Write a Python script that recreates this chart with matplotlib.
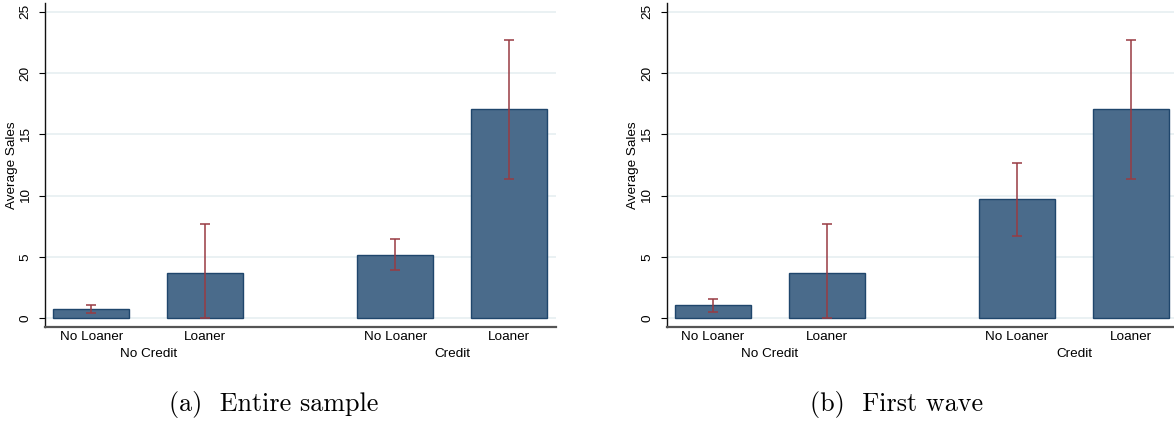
import matplotlib
matplotlib.use('Agg')
import matplotlib.pyplot as plt
import numpy as np

# 分类标签
loaner_labels = ['No Loaner', 'Loaner', 'No Loaner', 'Loaner']
credit_labels = ['No Credit', 'Credit']

# (a) 全样本：均值及置信区间上下限
mean_all = [0.75, 3.67, 5.19, 17.03]
upper_all = [1.06, 7.71, 6.46, 22.66]
lower_all = [0.46, 0.00, 3.91, 11.33]

# (b) 第一批
mean_first = [1.06, 3.67, 9.70, 17.03]
upper_first = [1.60, 7.71, 12.66, 22.66]
lower_first = [0.49, 0.00, 6.73, 11.33]

y_ticks = [0, 5, 10, 15, 20, 25]

bar_fill = '#4a6b8b'
bar_edge = '#1f466c'
ci_color = '#983b43'
grid_color = '#eaf1f3'

plt.rcParams['font.family'] = ['Liberation Sans', 'DejaVu Sans']


def draw_panel(ax, means, upper, lower):
    # 组内间距 1.5 个柱宽，组间 4 个柱宽
    pos = np.array([0.0, 1.5, 4.0, 5.5])
    means = np.array(means)
    err = [means - np.array(lower), np.array(upper) - means]

    ax.bar(pos, means, width=1.0, color=bar_fill, edgecolor=bar_edge,
           linewidth=1.0, zorder=2)
    ax.errorbar(pos, means, yerr=err, fmt='none', ecolor=ci_color,
                elinewidth=1.1, capsize=3.8, capthick=1.1, zorder=3)

    ax.set_xlim(-0.61, 6.11)
    ax.set_ylim(-0.7, 25.7)
    ax.set_yticks(y_ticks)
    ax.set_yticklabels([str(t) for t in y_ticks], rotation=90, va='center')
    ax.set_xticks(pos)
    ax.set_xticklabels(loaner_labels)
    ax.tick_params(axis='x', length=0, pad=3, labelsize=9.7)
    ax.tick_params(axis='y', length=4.5, width=0.8, pad=5, labelsize=9.7,
                   direction='out')

    # 横向网格线
    for t in y_ticks:
        ax.axhline(t, color=grid_color, linewidth=1.4, zorder=0)

    ax.spines['top'].set_visible(False)
    ax.spines['right'].set_visible(False)
    ax.spines['left'].set_color('#111111')
    ax.spines['left'].set_linewidth(1.0)
    ax.spines['bottom'].set_color('#555555')
    ax.spines['bottom'].set_linewidth(1.6)

    ax.set_ylabel('Average Sales', fontsize=9.7, labelpad=1.5)

    # 第二层分组标签
    for i, lab in enumerate(credit_labels):
        gx = (pos[2 * i] + pos[2 * i + 1]) / 2
        ax.annotate(lab, xy=(gx, 0), xycoords=('data', 'axes fraction'),
                    xytext=(0, -19.5), textcoords='offset points',
                    ha='center', va='center', fontsize=9.7,
                    annotation_clip=False)


fig = plt.figure(figsize=(11.74, 4.24), dpi=100)
ax1 = fig.add_axes([45 / 1174, 1 - 327 / 424, 510.7 / 1174, 324 / 424])
ax2 = fig.add_axes([666.7 / 1174, 1 - 327 / 424, 510.7 / 1174, 324 / 424])

draw_panel(ax1, mean_all, upper_all, lower_all)
draw_panel(ax2, mean_first, upper_first, lower_first)

# 子图标题（LaTeX 风格字体），居中于各子图区域
fig.text(274 / 1174, 1 - 405 / 424, '(a)  Entire sample', ha='center',
         va='center', fontsize=18.8, family='cmr10')
fig.text(897 / 1174, 1 - 405 / 424, '(b)  First wave', ha='center',
         va='center', fontsize=18.8, family='cmr10')

fig.savefig('out.png', dpi=100)
